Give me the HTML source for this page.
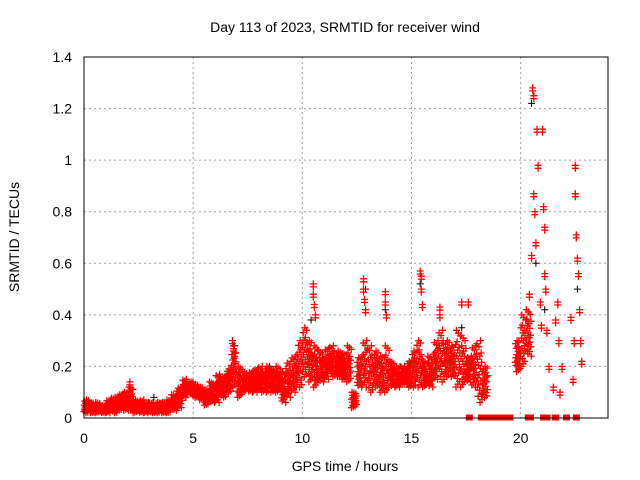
<!DOCTYPE html>
<html><head><meta charset="utf-8"><style>
body{margin:0;background:#fff;}
svg{display:block;font-family:"Liberation Sans",sans-serif;}
</style></head><body>
<svg id="chart" width="640" height="480">
<text x="345" y="32" font-size="14" text-anchor="middle">Day 113 of 2023, SRMTID for receiver wind</text>
<g id="grid"></g>
<g id="ticks"></g>
<path id="black" fill="none" stroke="#000" stroke-width="1"></path>
<path id="red" fill="none" stroke="#f00" stroke-width="1.3"></path>
<path id="zeros" fill="#f00" stroke="#f00"></path>
<rect x="84" y="57" width="524" height="361" fill="none" stroke="#000"></rect>
<text x="345" y="471" font-size="14" text-anchor="middle">GPS time / hours</text>
<text x="19" y="237" font-size="14" text-anchor="middle" transform="rotate(-90 19 237)">SRMTID / TECUs</text>
</svg>
<script>
const xTicks=[0,5,10,15,20];
const yTicks=[0,0.2,0.4,0.6,0.8,1,1.2,1.4];
const yTickLabels=["0","0.2","0.4","0.6","0.8","1","1.2","1.4"];
const binT=[0,0.25,0.5,0.75,1,1.25,1.5,1.75,2,2.25,2.5,2.75,3,3.25,3.5,3.75,4,4.25,4.5,4.75,5,5.25,5.5,5.75,6,6.25,6.5,6.75,7,7.25,7.5,7.75,8,8.25,8.5,8.75,9,9.25,9.5,9.75,10,10.25,10.5,10.75,11,11.25,11.5,11.75,12,12.25,12.5,12.75,13,13.25,13.5,13.75,14,14.25,14.5,14.75,15,15.25,15.5,15.75,16,16.25,16.5,16.75,17,17.25,17.5,17.75,18,18.25,19.75,20,20.25];
const binLo=[0.02,0.02,0.02,0.02,0.02,0.02,0.03,0.03,0.03,0.02,0.02,0.02,0.02,0.02,0.02,0.02,0.03,0.04,0.08,0.1,0.08,0.07,0.05,0.06,0.06,0.08,0.1,0.12,0.08,0.1,0.1,0.1,0.1,0.1,0.1,0.1,0.06,0.08,0.1,0.12,0.16,0.14,0.12,0.14,0.15,0.16,0.16,0.15,0.14,0.04,0.12,0.12,0.1,0.12,0.1,0.1,0.12,0.12,0.13,0.12,0.12,0.12,0.12,0.12,0.15,0.14,0.16,0.16,0.12,0.12,0.14,0.12,0.06,0.08,0.18,0.2,0.24];
const binHi=[0.07,0.06,0.06,0.05,0.07,0.08,0.09,0.1,0.12,0.07,0.07,0.06,0.06,0.06,0.06,0.07,0.09,0.12,0.15,0.14,0.13,0.12,0.11,0.14,0.17,0.16,0.19,0.26,0.2,0.18,0.18,0.19,0.2,0.2,0.19,0.2,0.18,0.22,0.24,0.3,0.35,0.3,0.28,0.26,0.27,0.28,0.26,0.25,0.28,0.1,0.24,0.3,0.28,0.26,0.24,0.28,0.22,0.2,0.2,0.22,0.26,0.3,0.22,0.24,0.3,0.34,0.3,0.28,0.34,0.32,0.24,0.28,0.3,0.2,0.3,0.4,0.42];
const spikeT=[2.1,2.1,2.12,6.8,6.85,6.9,10.5,10.5,10.55,10.6,12.8,12.8,12.85,12.9,13.8,13.8,13.85,15.4,15.45,15.45,15.5,16.3,16.3,17.3,17.6,20.4,20.5,20.55,20.6,20.6,20.65,20.7,20.75,20.8,20.9,20.95,21.0,21.05,21.1,21.1,21.15,21.2,21.3,21.5,21.6,21.7,21.75,21.8,21.9,22.3,22.4,22.45,22.5,22.5,22.55,22.6,22.65,22.7,22.75,22.8];
const spikeV=[0.14,0.12,0.1,0.3,0.28,0.25,0.52,0.48,0.44,0.4,0.54,0.5,0.46,0.42,0.49,0.45,0.4,0.57,0.55,0.5,0.44,0.43,0.4,0.45,0.45,0.48,0.63,1.28,1.25,0.87,0.8,0.68,1.12,0.98,0.45,0.36,1.12,0.82,0.74,0.56,0.5,0.34,0.2,0.12,0.38,0.45,0.3,0.1,0.2,0.39,0.15,0.3,0.98,0.87,0.71,0.62,0.56,0.42,0.3,0.22];
const blackT=[3.2,6.9,8.5,10.4,12.9,13.8,15.4,17.3,20.5,20.7,21.1,22.5,22.6];
const blackV=[0.08,0.28,0.2,0.38,0.5,0.42,0.52,0.35,1.22,0.6,0.42,0.87,0.5];
const zeroT=[17.65,18.2,18.35,18.5,18.7,18.9,19.1,19.3,19.5,20.35,20.45,21.05,21.2,21.6,22.1,22.55];

const X=t=>84+t*(524/24), Y=v=>418-v*(361/1.4);
const NS="http://www.w3.org/2000/svg";
const grid=document.getElementById('grid'), ticks=document.getElementById('ticks');
xTicks.forEach(t=>{
  const l=document.createElementNS(NS,'line');
  
  
  l.setAttribute('x1',X(t));l.setAttribute('x2',X(t));l.setAttribute('y1',57);l.setAttribute('y2',418);
  l.setAttribute('stroke','#a0a0a0');l.setAttribute('stroke-dasharray','2,3');grid.appendChild(l);
  const tx=document.createElementNS(NS,'text');
  
  
  tx.setAttribute('x',X(t));tx.setAttribute('y',443);tx.setAttribute('font-size','14');tx.setAttribute('text-anchor','middle');
  tx.textContent=t;ticks.appendChild(tx);
});
yTicks.forEach((v,i)=>{
  const l=document.createElementNS(NS,'line');
  
  
  l.setAttribute('x1',84);l.setAttribute('x2',608);l.setAttribute('y1',Y(v));l.setAttribute('y2',Y(v));
  l.setAttribute('stroke','#a0a0a0');l.setAttribute('stroke-dasharray','2,3');grid.appendChild(l);
  const tx=document.createElementNS(NS,'text');
  
  
  tx.setAttribute('x',72);tx.setAttribute('y',Y(v)+5);tx.setAttribute('font-size','14');tx.setAttribute('text-anchor','end');
  tx.textContent=yTickLabels[i];ticks.appendChild(tx);
});
const plus=(x,y)=>`M${(x-3.5).toFixed(1)} ${y.toFixed(1)}h7M${x.toFixed(1)} ${(y-3.5).toFixed(1)}v7`;
let d='';
const frac=[0.1,0.6,0.3,0.9,0.45,0.2,0.75,0.0,0.55,1.0,0.35,0.8,0.15,0.65,0.05,0.5,0.95,0.25,0.7,0.4];
binT.forEach((t,i)=>{
  for(let k=0;k<20;k++){
    const tt=t+k*0.0125, v=binLo[i]+(binHi[i]-binLo[i])*frac[(k+i*3)%20];
    d+=plus(X(tt),Y(v));
  }
});
spikeT.forEach((t,i)=>{
  d+=plus(X(t),Y(spikeV[i]));
  d+=plus(X(t),Y(spikeV[i])+3);
});
document.getElementById('red').setAttribute('d',d);
let dz='';
zeroT.forEach(t=>{dz+=`M${X(t)-3} ${Y(0)-3}h6v5h-6z`;});
document.getElementById('zeros').setAttribute('d',dz);
let db='';
blackT.forEach((t,i)=>{db+=plus(X(t),Y(blackV[i]));});
document.getElementById('black').setAttribute('d',db);
</script>
</body></html>
